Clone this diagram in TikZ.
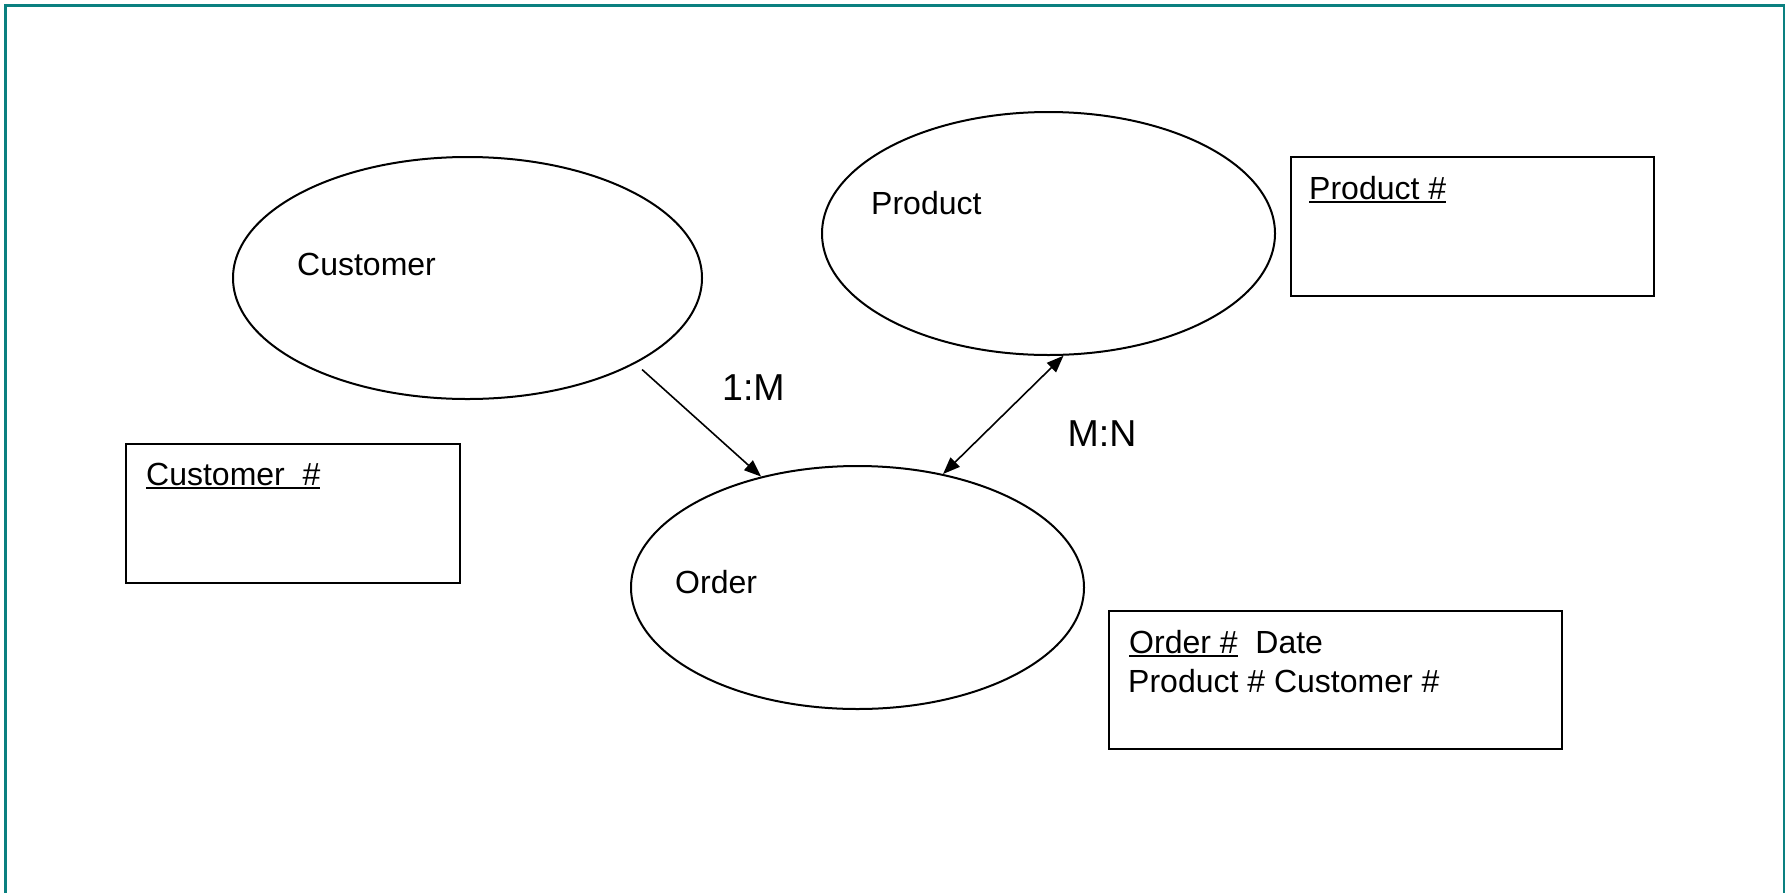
\documentclass[tikz,border=0pt]{standalone}
\usepackage{fontspec}
\setmainfont{Liberation Sans}
\usetikzlibrary{shapes.geometric,arrows.meta}
\definecolor{frameteal}{RGB}{10,128,128}
% underlined key attribute
\newcommand\keyattr[1]{\setbox0\hbox{#1}\rlap{\rule[-3.6pt]{\wd0}{1.8pt}}\box0}
\tikzset{
  x=1pt, y=-1pt,
  entity/.style={draw, ellipse, line width=2pt, inner sep=0pt,
                 minimum width=453pt, minimum height=243pt},
  attrbox/.style={draw, line width=2.4pt, inner sep=0pt},
  etext/.style={anchor=base west, inner sep=0pt, font=\fontsize{32}{38}\selectfont},
  rtext/.style={anchor=base west, inner sep=0pt, font=\fontsize{37.5}{45}\selectfont},
  rel/.style={line width=1.6pt, -{Triangle[length=17pt,width=13pt]}},
  relboth/.style={line width=1.6pt, {Triangle[length=17pt,width=13pt]}-{Triangle[length=17pt,width=13pt]}},
}
\begin{document}
\begin{tikzpicture}
\useasboundingbox (0,0) rectangle (1790,892);
\clip (0,0) rectangle (1790,892);
\fill[white] (0,0) rectangle (1790,892);

% page frame (open at the bottom)
\draw[frameteal, line width=2.6pt] (5.5,900) -- (5.5,5.5) -- (1784,5.5) -- (1784,900);

% entities
\node[entity, minimum width=469pt, minimum height=242pt] (cust) at (467.5,278) {};
\node[entity] (prod) at (1048.5,233.5) {};
\node[entity] (ord)  at (857.5,587.5) {};

\node[etext] (custname) at (297,275) {Customer};
\node[etext] (prodname) at (871,214) {Product};
\node[etext] (ordname)  at (675,593) {Order};

% attribute boxes
\node[attrbox, minimum width=334pt, minimum height=139pt] (custbox) at (293,513.5) {};
\node[attrbox, minimum width=363pt, minimum height=139pt] (prodbox) at (1472.5,226.5) {};
\node[attrbox, minimum width=453pt, minimum height=138pt] (ordbox)  at (1335.5,680) {};

\node[etext] (custkey) at (146,485.5) {\keyattr{Customer\ \ \#}};
\node[etext] (prodkey) at (1309,199) {\keyattr{Product \#}};
\node[etext] (ordkey)  at (1129,653) {\keyattr{Order \#}\ \ Date};
\node[etext] (ordfk)   at (1128,692) {Product \# Customer \#};

% relationships
\draw[rel, shorten <=9pt] (cust.-27.4) -- (ord.131.6);
\draw[relboth] (ord.53.5) -- (prod.-83.1);

\node[rtext] (r1) at (722,400) {1:M};
\node[rtext] (r2) at (1067.5,446) {M:N};
\end{tikzpicture}
\end{document}
